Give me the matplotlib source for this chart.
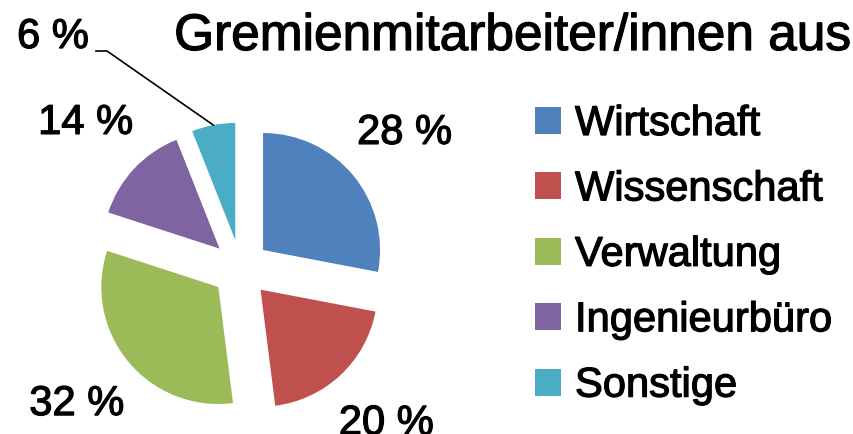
import numpy as np
import matplotlib
matplotlib.use("Agg")
import matplotlib.pyplot as plt
import matplotlib.patheffects as pe

plt.rcParams["font.family"] = ["Liberation Sans", "DejaVu Sans"]

# data
categories = ["Wirtschaft", "Wissenschaft", "Verwaltung", "Ingenieurbüro", "Sonstige"]
shares = [28, 20, 32, 14, 6]
colors = ["#4F81BD", "#C0504D", "#9BBB59", "#8064A2", "#4BACC6"]
title = "Gremienmitarbeiter/innen aus"

W, H = 854, 434
fig = plt.figure(figsize=(W / 100, H / 100), dpi=100)
fig.patch.set_facecolor("white")

# slightly heavier text, like the original rendering
bold_fx = [pe.withStroke(linewidth=0.9, foreground="black")]

# pie geometry in pixels (center and radius), axes scaled so radius = 1
cx, cy, R = 240.7, 268.5, 117.0
ax = fig.add_axes([0, 0, 1, 1])
wedges, _ = ax.pie(
    shares,
    colors=colors,
    startangle=90,
    counterclock=False,
    explode=[0.248] * len(shares),
    radius=1,
    wedgeprops=dict(linewidth=0),
)
ax.set_xlim(-cx / R, (W - cx) / R)
ax.set_ylim(-(H - cy) / R, cy / R)
ax.set_aspect("equal", adjustable="datalim")
ax.axis("off")


def px(x, y):
    # figure pixel (top-left origin) -> data coords
    return (x - cx) / R, (cy - y) / R


# percentage labels
for w, v in zip(wedges[:-1], shares[:-1]):
    t = np.deg2rad((w.theta1 + w.theta2) / 2)
    x0, y0 = w.center
    ax.text(x0 + 1.57 * w.r * np.cos(t), y0 + 1.57 * w.r * np.sin(t), f"{v} %",
            ha="center", va="center", fontsize=30, path_effects=bold_fx)

# small slice label with leader line
w = wedges[-1]
t = np.deg2rad((w.theta1 + w.theta2) / 2)
ex, ey = w.center[0] + w.r * np.cos(t), w.center[1] + w.r * np.sin(t)
tx, ty = px(53, 37)
ax.text(tx, ty, f"{shares[-1]} %", ha="center", va="center", fontsize=30,
        path_effects=bold_fx)
p1 = px(96, 51)
p2 = px(107, 51)
ax.plot([p1[0], p2[0], ex], [p1[1], p2[1], ey], color="black", lw=1.2)

# title
fig.text(850 / W, 1 - 50 / H, title, ha="right", va="baseline", fontsize=37,
         path_effects=bold_fx)

# legend
leg = fig.legend(
    wedges, categories,
    loc="upper left",
    bbox_to_anchor=(535 / W, 1 - 104 / H),
    frameon=False,
    fontsize=30,
    handlelength=0.62,
    handleheight=0.62,
    handletextpad=0.34,
    labelspacing=0.61,
    borderpad=0,
    borderaxespad=0,
)
for txt in leg.get_texts():
    txt.set_path_effects(bold_fx)

fig.savefig("out.png", dpi=100, facecolor="white")
